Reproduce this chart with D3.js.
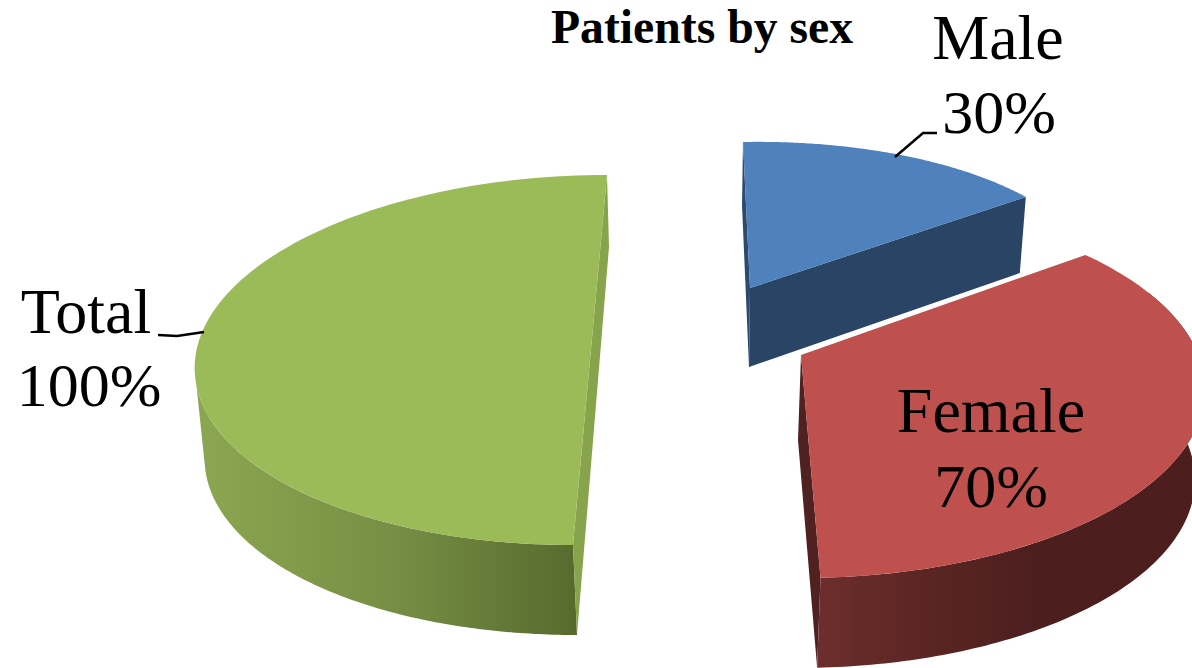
<!DOCTYPE html>
<html>
<head>
<meta charset="utf-8">
<title>Patients by sex</title>
<script src="https://cdn.jsdelivr.net/npm/d3@7/dist/d3.min.js"></script>
<style>
  html, body { margin: 0; padding: 0; background: #fff; overflow: hidden; }
  svg { display: block; }
  text { font-family: "Liberation Serif", "Times New Roman", serif; fill: #000; }
</style>
</head>
<body>
<svg id="chart" width="1192" height="668" viewBox="0 0 1192 668"></svg>
<script>
// Chart content
const chartTitle = "Patients by sex";
const categories = ["Male", "Female", "Total"];
const percentages = [30, 70, 100];
const topColors = ["#4F81BD", "#BE504E", "#9BBB59"];

// Perspective geometry of each exploded wedge: the ellipse of its top rim,
// the ellipse of its lower rim, and the point where its cut faces meet.
const wedgeShapes = [
  {
    apex: [750, 288], apexLow: [749, 367], backMid: [742, 205],
    top: { ex: 750, ey: 288, rx: 346, ry: 146, k: -7, s: -6.4, phase: 0, stretch: 1 },
    low: { ex: 744, ey: 364, rx: 346, ry: 146, k: -7, s: -6.4, phase: 0, stretch: 1 },
    rimTop: 54, rimLow: 54
  },
  {
    apex: [801, 355], apexLow: [798, 440], backMid: [798, 440],
    top: { ex: 800, ey: 389, rx: 405, ry: 189, k: 0, s: 0, phase: -11.9, stretch: 1.05 },
    low: { ex: 797, ey: 480, rx: 398, ry: 188, k: 0, s: 0, phase: -11.9, stretch: 1.05 },
    rimTop: 68, rimLow: 68
  },
  {
    apex: [590, 360], apexLow: [595, 450], backMid: [609, 247],
    top: { ex: 590, ey: 360, rx: 395, ry: 185, k: 17, s: 0, phase: 0, stretch: 1 },
    low: { ex: 595, ey: 450, rx: 390, ry: 185, k: 18, s: 0, phase: 0, stretch: 1 },
    rimTop: 262, rimLow: 264
  }
];

// Label placement: centre x of each text line and their baselines
const labelSpots = [
  { x1: 998, x2: 999, y1: 59, y2: 133 },
  { x1: 991, x2: 991, y1: 432, y2: 507 },
  { x1: 86, x2: 89, y1: 333, y2: 406 }
];
const categorySize = 64;
const percentSize = 62;
const leaders = [
  [[895, 157], [923, 133], [937, 133]],
  [[158, 335], [177, 336], [204, 332]]
];

const svg = d3.select("#chart");
const defs = svg.append("defs");

// Outer walls get darker towards the front-right of the pie
const wallGradients = [
  { id: "wall-female", x1: 820, x2: 1040, stops: ["#6C2E2C", "#5A2523", "#4C1E1E"] },
  { id: "wall-total", x1: 205, x2: 578, stops: ["#8BA650", "#768F44", "#576A2E"] }
];
wallGradients.forEach(g => {
  const lg = defs.append("linearGradient").attr("id", g.id)
    .attr("gradientUnits", "userSpaceOnUse")
    .attr("x1", g.x1).attr("x2", g.x2).attr("y1", 0).attr("y2", 0);
  lg.selectAll("stop").data(g.stops).join("stop")
    .attr("offset", (d, i) => i / (g.stops.length - 1))
    .attr("stop-color", d => d);
});

const cutColors = ["#2A4465", "#4F2120", "#87A34B"];
const toRad = Math.PI / 180;

const slices = d3.pie().sort(null).value(d => d)(percentages);

// Project a pie angle (radians) on to a rim ellipse
function onRim(rim, angle) {
  const phi = rim.phase * toRad + angle * rim.stretch;
  return [
    rim.ex + rim.rx * Math.sin(phi) + rim.k * Math.cos(phi),
    rim.ey - rim.ry * Math.cos(phi) + rim.s * Math.sin(phi)
  ];
}
function sampleRim(rim, a0, a1) {
  const n = 120;
  return d3.range(n + 1).map(i => onRim(rim, a0 + (a1 - a0) * i / n));
}

const outline = d3.line().curve(d3.curveLinear);
const marks = svg.append("g");

slices.forEach((sl, i) => {
  const shape = wedgeShapes[i];
  const g = marks.append("g").attr("class", "wedge-" + categories[i].toLowerCase());
  const startTop = onRim(shape.top, sl.startAngle);
  const endTop = onRim(shape.top, sl.endAngle);
  const startLow = onRim(shape.low, sl.startAngle);
  const endLow = onRim(shape.low, sl.endAngle);

  if (i === 0) {
    // The male wedge shows only its cut faces
    g.append("path").attr("fill", "#2C4A6E")
      .attr("d", outline([startTop, shape.backMid, shape.apexLow, shape.apex]) + "Z");
    g.append("path").attr("fill", cutColors[0])
      .attr("d", outline([shape.apex, endTop, [endTop[0] - 6, endTop[1] + 76], shape.apexLow]) + "Z");
  } else if (i === 1) {
    // Female: thin back face on the left, then the curved wall
    g.append("path").attr("fill", cutColors[1])
      .attr("d", outline([shape.apex, shape.backMid, endLow, endTop]) + "Z");
    const wall = sampleRim(shape.top, shape.rimTop * toRad, sl.endAngle)
      .concat(sampleRim(shape.low, shape.rimLow * toRad, sl.endAngle).reverse());
    g.append("path").attr("fill", "url(#wall-female)").attr("d", outline(wall) + "Z");
  } else {
    // Total: curved wall on the left, closed by a straight silhouette edge,
    // with a narrow cut face along the straight side of the wedge
    const wall = sampleRim(shape.top, sl.startAngle, shape.rimTop * toRad)
      .concat(sampleRim(shape.low, sl.startAngle, shape.rimLow * toRad).reverse());
    g.append("path").attr("fill", "url(#wall-total)").attr("d", outline(wall) + "Z");
    g.append("path").attr("fill", cutColors[2])
      .attr("d", outline([endTop, shape.backMid, startLow, startTop]) + "Z");
  }

  // Top face of the wedge
  const rimPts = sampleRim(shape.top, sl.startAngle, sl.endAngle);
  const face = i === 2 ? rimPts : [shape.apex].concat(rimPts);
  g.append("path").attr("fill", topColors[i]).attr("d", outline(face) + "Z");
});

// Leader lines
svg.append("g").selectAll("path").data(leaders).join("path")
  .attr("fill", "none").attr("stroke", "#000").attr("stroke-width", 2.5)
  .attr("d", d => outline(d));

// Two-line data labels: category on the first line, percentage on the second
const labels = svg.append("g").selectAll("g").data(categories).join("g");
labels.append("text")
  .attr("x", (d, i) => labelSpots[i].x1).attr("y", (d, i) => labelSpots[i].y1)
  .attr("text-anchor", "middle").attr("font-size", categorySize).text(d => d);
labels.append("text")
  .attr("x", (d, i) => labelSpots[i].x2).attr("y", (d, i) => labelSpots[i].y2)
  .attr("text-anchor", "middle").attr("font-size", percentSize).text((d, i) => percentages[i] + "%");

svg.append("text")
  .attr("x", 702).attr("y", 43).attr("text-anchor", "middle")
  .attr("font-size", 47.7).attr("font-weight", "bold").text(chartTitle);
</script>
</body>
</html>
